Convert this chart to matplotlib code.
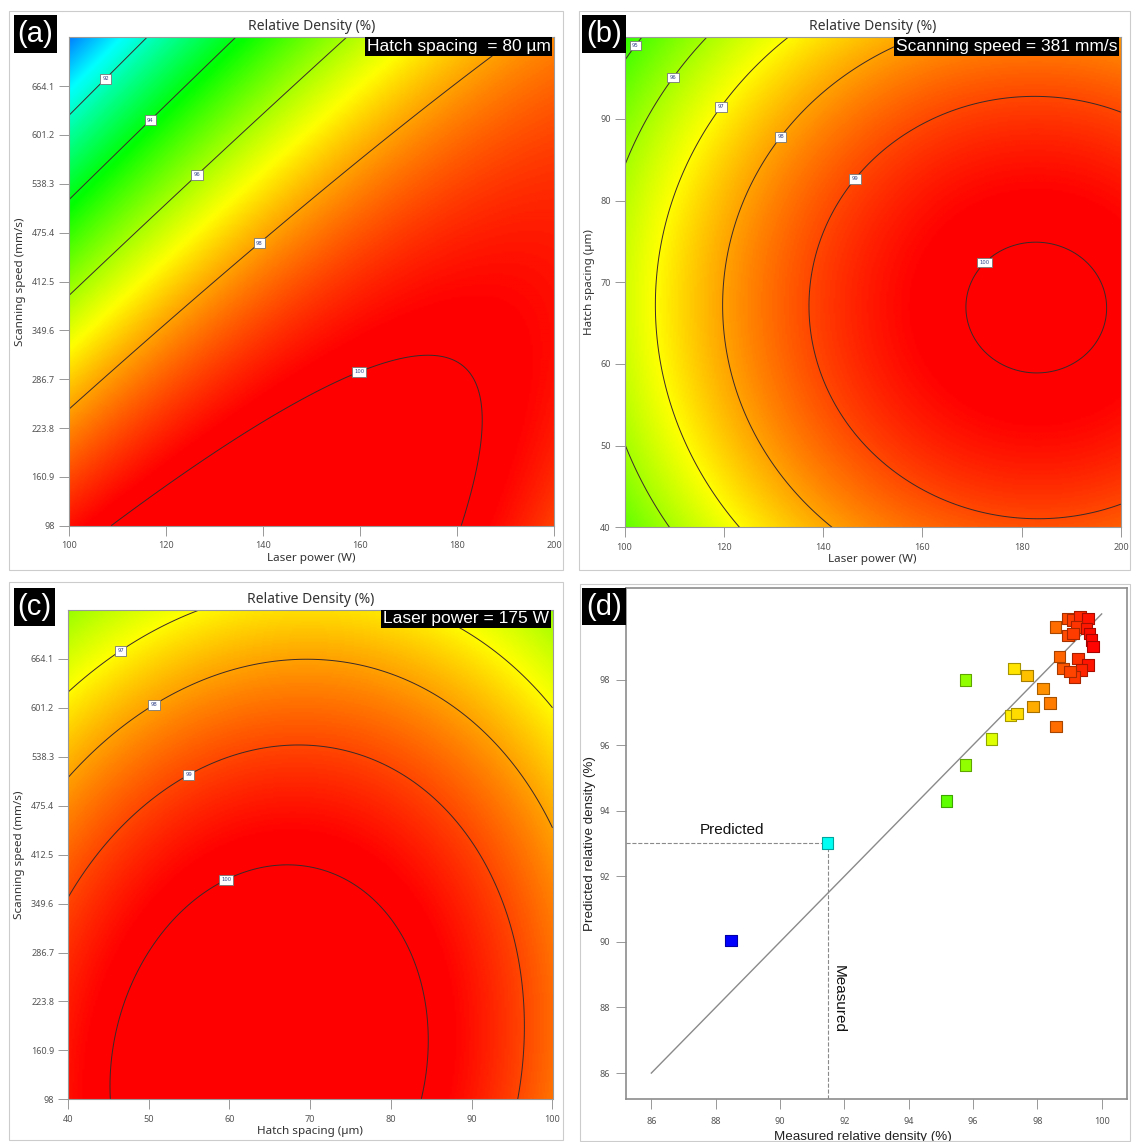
import numpy as np
import matplotlib
matplotlib.use("Agg")
import matplotlib.pyplot as plt
from matplotlib.colors import LinearSegmentedColormap, Normalize
from matplotlib.patches import Rectangle
from matplotlib import font_manager

# ---- panel (a): laser power x scanning speed, hatch spacing fixed at 80 um
# points picked off the contour lines: level, laser power (W), scanning speed (mm/s)
a_level = [92, 92, 94, 94, 96, 96, 98, 98, 98, 98, 100, 100, 100, 100, 100, 100, 100]
a_power = [100, 115.9, 100, 134.6, 100, 157.6, 100, 115.6, 130.5, 186.6,
           108.2, 140.1, 157.2, 174.3, 185.1, 184.0, 179.9]
a_speed = [627.7, 727, 516.4, 727, 393, 727, 248.8, 327.9, 413.6, 700.4,
           98, 236, 298, 327.9, 242.4, 173.8, 98]
a_contours = [92, 94, 96, 98, 100]
a_flags = [(106.3, 682), (115.2, 631), (125.1, 559), (137.7, 474), (158.6, 315)]

# ---- panel (b): laser power x hatch spacing, scanning speed fixed at 381 mm/s
b_level = [100, 100, 100, 100, 99, 99, 99, 98, 98, 97, 97, 96, 96, 96, 95, 95]
b_power = [167.1, 196.4, 181.7, 181.7, 137.1, 181.7, 181.7, 119.8, 154.4,
           106.4, 133.3, 100, 108.9, 116.9, 100, 102.7]
b_hatch = [67, 67, 75.4, 58.5, 67, 41.3, 92.7, 67, 98.85,
           67, 100, 83.8, 40, 100, 97, 100]
b_contours = [95, 96, 97, 98, 99, 100]
b_flags = [(102, 99.1), (108.4, 95.7), (117.9, 92.2), (129.5, 88.7), (144.2, 83.8), (169.3, 74.4)]

# ---- panel (c): hatch spacing x scanning speed, laser power fixed at 175 W
c_level = [97, 97, 97, 97, 98, 98, 98, 99, 99, 99, 99, 100, 100, 100]
c_hatch = [40, 55.9, 88.9, 100, 40, 69.1, 100, 40, 68.7, 95.95, 95.3, 45.1, 67.5, 84.0]
c_speed = [623.5, 726, 700.5, 604.2, 510.1, 663.3, 437.3, 353.9, 552.0, 304.7, 98,
           98, 398.8, 98]
c_contours = [97, 98, 99, 100]
c_flags = [(45.8, 686), (50.1, 615), (54.5, 523), (59.1, 390)]

power_ticks = [100, 120, 140, 160, 180, 200]
hatch_ticks = [40, 50, 60, 70, 80, 90, 100]
hatch_ticks_b = [40, 50, 60, 70, 80, 90]
speed_ticks = [98, 160.9, 223.8, 286.7, 349.6, 412.5, 475.4, 538.3, 601.2, 664.1]

# ---- panel (d): predicted vs measured
measured = [88.48, 91.48, 95.18, 95.76, 95.76, 96.58, 97.17, 97.37, 97.28, 97.68,
            97.87, 98.18, 98.40, 98.58, 98.57, 98.69, 98.95, 99.11, 99.32, 99.57,
            99.21, 99.52, 98.95, 99.11, 99.63, 99.68, 99.73, 99.26, 99.57, 98.80,
            99.37, 99.16, 99.01]
predicted = [90.05, 93.02, 94.29, 95.40, 97.98, 96.18, 96.90, 96.97, 98.34, 98.12,
             97.17, 97.73, 97.28, 96.57, 99.60, 98.70, 99.86, 99.81, 99.91, 99.86,
             99.60, 99.56, 99.35, 99.40, 99.40, 99.20, 99.00, 98.64, 98.44, 98.34,
             98.29, 98.08, 98.24]
highlight = 1          # the run marked with the dashed guides
diag = [86, 100]
d_xticks = [86, 88, 90, 92, 94, 96, 98, 100]
d_yticks = [86, 88, 90, 92, 94, 96, 98]

W, H = 1132, 1142
names = {f.name for f in font_manager.fontManager.ttflist}
narrow = "Liberation Sans Narrow" if "Liberation Sans Narrow" in names else "Liberation Sans"
ui = "Noto Sans"

cmap = LinearSegmentedColormap.from_list(
    "rsm", ["#0000ff", "#00ffff", "#00ff00", "#ffff00", "#ff0000"])
norm = Normalize(vmin=88.5, vmax=99.8)


def quad_terms(u, v):
    return np.column_stack([np.ones_like(u), u, v, u * v, u ** 2, v ** 2])


def surface(x, y, z, xlim, ylim, n=300):
    # quadratic response surface in coded units, fitted to the contour readings
    cx, hx = (xlim[0] + xlim[1]) / 2, (xlim[1] - xlim[0]) / 2
    cy, hy = (ylim[0] + ylim[1]) / 2, (ylim[1] - ylim[0]) / 2
    u = (np.asarray(x, float) - cx) / hx
    v = (np.asarray(y, float) - cy) / hy
    coef = np.linalg.lstsq(quad_terms(u, v), np.asarray(z, float), rcond=None)[0]
    X, Y = np.meshgrid(np.linspace(*xlim, n), np.linspace(*ylim, n))
    Z = quad_terms(((X - cx) / hx).ravel(), ((Y - cy) / hy).ravel()) @ coef
    return X, Y, Z.reshape(X.shape)


def axes_px(fig, x0, y0, x1, y1):
    return fig.add_axes([x0 / W, 1 - y1 / H, (x1 - x0) / W, (y1 - y0) / H])


def style(ax, color="#999999", xpad=4, ypad=3):
    for s in ax.spines.values():
        s.set_color(color)
        s.set_linewidth(0.8)
    ax.tick_params(direction="out", length=7, width=0.6, color="#888888",
                   labelsize=6.5, labelcolor="#555555")
    ax.tick_params(axis="x", pad=xpad)
    ax.tick_params(axis="y", pad=ypad)
    for t in ax.get_xticklabels() + ax.get_yticklabels():
        t.set_fontfamily(ui)


def contour_panel(ax, x, y, z, xlim, ylim, levels, flags, xticks, yticks,
                  ytl, xlabel, ylabel, note):
    X, Y, Z = surface(x, y, z, xlim, ylim)
    ax.imshow(Z, extent=[*xlim, *ylim], origin="lower", aspect="auto",
              cmap=cmap, norm=norm, interpolation="bilinear")
    cs = ax.contour(X, Y, Z, levels=levels, colors="#3a2a2a", linewidths=0.7)
    lbls = ax.clabel(cs, fmt="%d", manual=flags, fontsize=3.8, inline=True,
                     inline_spacing=2)
    for t in lbls:
        t.set_rotation(0)
        t.set_color("#334488")
        t.set_bbox(dict(boxstyle="square,pad=0.45", fc="white", ec="#777777", lw=0.6))
    ax.set_xlim(*xlim)
    ax.set_ylim(*ylim)
    ax.set_xticks(xticks)
    ax.set_yticks(yticks)
    ax.set_yticklabels(ytl)
    style(ax)
    ax.set_xlabel(xlabel, fontsize=8.4, color="#333333", family=ui, labelpad=2)
    ax.set_ylabel(ylabel, fontsize=8.4, color="#333333", family=ui, labelpad=4)
    ax.set_title("Relative Density (%)", fontsize=10, color="#333333", family=ui, pad=5)
    ax.text(0.993, 0.997, note, transform=ax.transAxes, ha="right", va="top",
            color="white", fontsize=12.5, family=narrow,
            bbox=dict(fc="black", ec="none", pad=1.2))


fig = plt.figure(figsize=(W / 100, H / 100), dpi=100)

# light frames round each panel
for x0, y0, x1, y1 in [(9, 10.7, 563, 570), (578.6, 10.7, 1130, 570),
                       (9, 582, 563, 1140), (580, 584, 1130, 1141)]:
    fig.add_artist(Rectangle((x0 / W, 1 - y1 / H), (x1 - x0) / W, (y1 - y0) / H,
                             transform=fig.transFigure, fill=False,
                             ec="#cccccc", lw=0.8))

ax_a = axes_px(fig, 68.6, 37.3, 554, 525.7)
contour_panel(ax_a, a_power, a_speed, a_level, (100, 200), (98, 727), a_contours,
              a_flags, power_ticks, speed_ticks, [f"{v:g}" for v in speed_ticks],
              "Laser power (W)", "Scanning speed (mm/s)", "Hatch spacing  = 80 µm")

ax_b = axes_px(fig, 624.5, 37.3, 1121, 527.3)
contour_panel(ax_b, b_power, b_hatch, b_level, (100, 200), (40, 100), b_contours,
              b_flags, power_ticks, hatch_ticks_b, [str(v) for v in hatch_ticks_b],
              "Laser power (W)", "Hatch spacing (µm)", "Scanning speed = 381 mm/s")

ax_c = axes_px(fig, 68, 610, 552.5, 1099.3)
contour_panel(ax_c, c_hatch, c_speed, c_level, (40, 100), (98, 727), c_contours,
              c_flags, hatch_ticks, speed_ticks, [f"{v:g}" for v in speed_ticks],
              "Hatch spacing (µm)", "Scanning speed (mm/s)", "Laser power = 175 W")

# ---- (d)
ax_d = axes_px(fig, 625.6, 587.7, 1127.4, 1099.3)
lims = (85.2, 100.8)
ax_d.plot(diag, diag, color="#8a8a8a", lw=1.0, zorder=1)
mx, py_ = measured[highlight], predicted[highlight]
ax_d.plot([lims[0], mx], [py_, py_], ls="--", color="#8a8a8a", lw=0.8, zorder=1)
ax_d.plot([mx, mx], [lims[0], py_], ls="--", color="#8a8a8a", lw=0.8, zorder=1)
face = cmap(norm(np.array(measured)))
edge = face.copy()
edge[:, :3] *= 0.65
ax_d.scatter(measured, predicted, c=face, edgecolors=edge, marker="s", s=68,
             linewidths=0.8, zorder=3)
ax_d.text(88.5, 93.2, "Predicted", fontsize=11, family="Liberation Sans",
          ha="center", va="bottom", color="#111111")
ax_d.text(91.83, 88.26, "Measured", fontsize=11, family="Liberation Sans",
          rotation=270, ha="center", va="center", color="#111111")
ax_d.set_xlim(*lims)
ax_d.set_ylim(*lims)
ax_d.set_xticks(d_xticks)
ax_d.set_yticks(d_yticks)
style(ax_d, "#8c8c8c", xpad=6, ypad=4)
for s in ax_d.spines.values():
    s.set_linewidth(1.2)
ax_d.set_xlabel("Measured relative density (%)", fontsize=9.6, color="#222222",
                family="Liberation Sans", labelpad=0)
ax_d.xaxis.set_label_coords(0.472, -0.061)
ax_d.set_ylabel("Predicted relative density (%)", fontsize=9.6, color="#222222",
                family="Liberation Sans", labelpad=3)

# panel letters
for lab, (x0, y0, x1, y1) in zip(["(a)", "(b)", "(c)", "(d)"],
                                 [(14.4, 15, 56.7, 52.7), (582.2, 15, 625.6, 52.7),
                                  (14.4, 587.7, 54.9, 625.7), (582.2, 588.3, 625.6, 625)]):
    fig.add_artist(Rectangle((x0 / W, 1 - y1 / H), (x1 - x0) / W, (y1 - y0) / H,
                             transform=fig.transFigure, fc="black", ec="none", zorder=10))
    fig.text((x0 + x1) / 2 / W, 1 - (y0 + y1) / 2 / H, lab, color="white",
             fontsize=21, family=narrow, ha="center", va="center", zorder=11)

fig.savefig("out.png", dpi=100)
